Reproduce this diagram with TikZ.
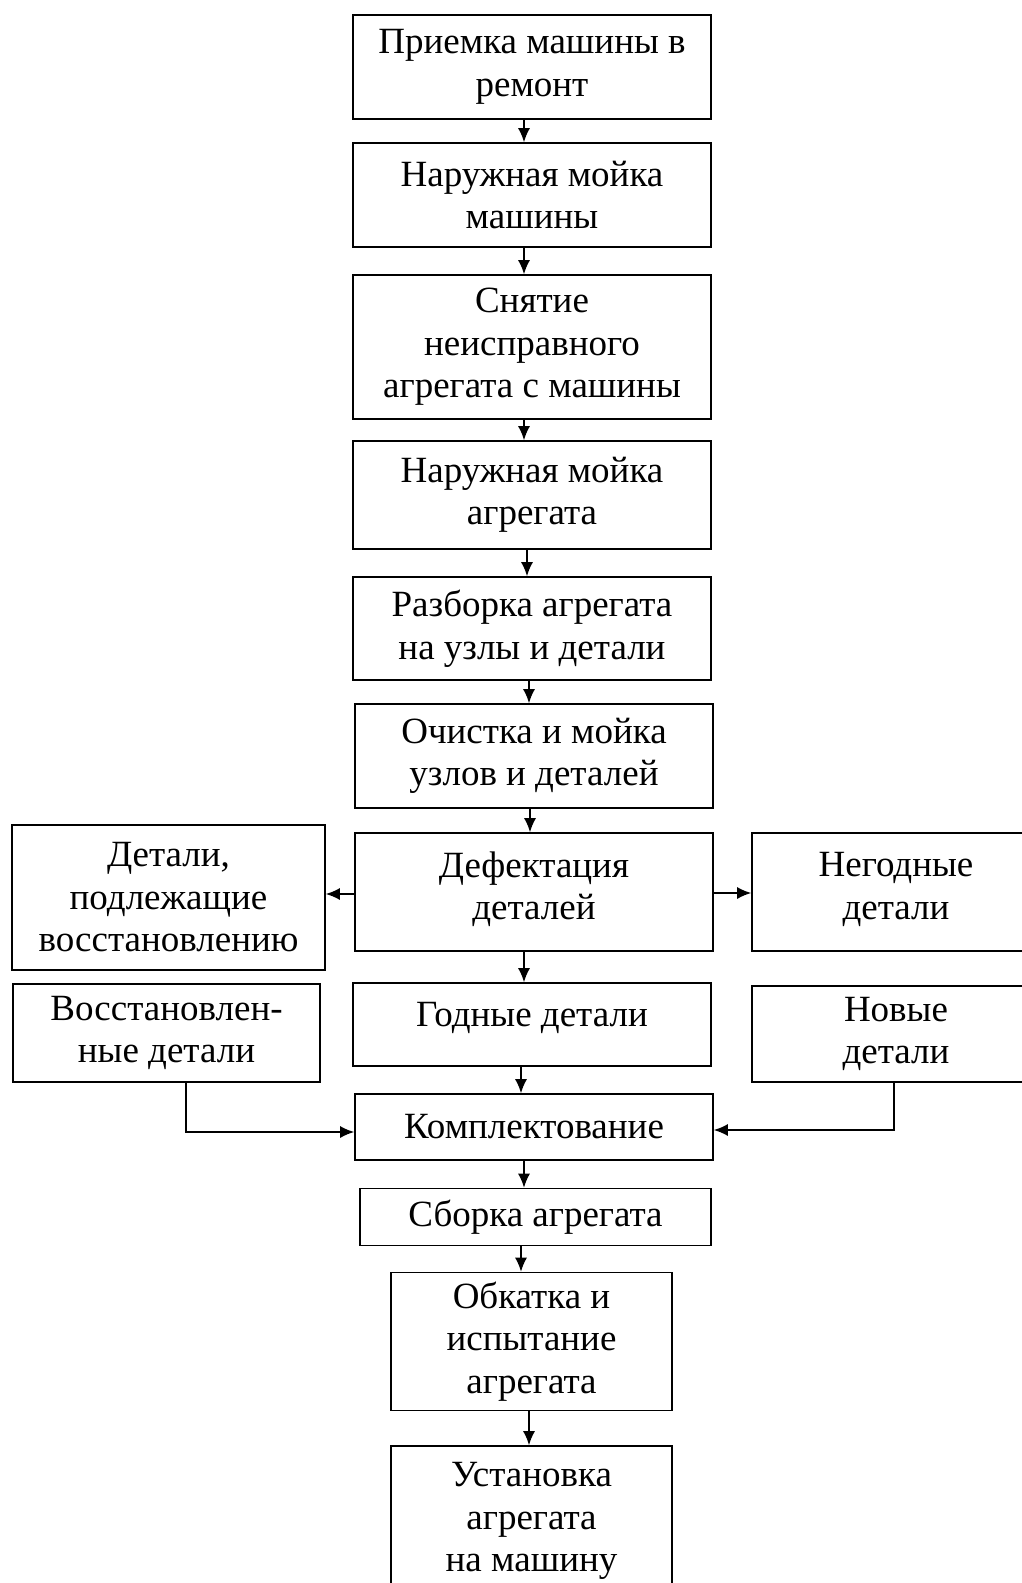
\documentclass[tikz,border=0pt]{standalone}
\usepackage{fontspec}
\setmainfont{Liberation Serif}
\usetikzlibrary{arrows.meta}
\begin{document}
\begin{tikzpicture}[x=1pt,y=-1pt,
  box/.style={draw,line width=1.6pt,inner sep=0pt,align=center,
    font=\fontsize{37}{42.5}\selectfont},
  arr/.style={line width=1.6pt,-{Latex[length=14pt,width=12pt]}}]
\useasboundingbox (0,0) rectangle (1021,1583);
% main column
\node[box,minimum width=358pt,minimum height=104pt] (b1) at (532,67) {Приемка машины в\\ремонт};
\node[box,minimum width=358pt,minimum height=104pt] (b2) at (532,195) {Наружная мойка\\машины};
\node[box,minimum width=358pt,minimum height=144pt] (b3) at (532,347) {Снятие\\неисправного\\агрегата с машины};
\node[box,minimum width=358pt,minimum height=108pt] (b4) at (532,495) {Наружная мойка\\агрегата};
\node[box,minimum width=358pt,minimum height=103pt] (b5) at (532,628.5) {Разборка агрегата\\на узлы и детали};
\node[box,minimum width=358pt,minimum height=104pt] (b6) at (534,756) {Очистка и мойка\\узлов и деталей};
\node[box,minimum width=358pt,minimum height=118pt] (b7) at (534,892) {Дефектация\\деталей\\[-30pt]\mbox{}};
\node[box,minimum width=313pt,minimum height=145pt] (l1) at (168.5,897.5) {Детали,\\подлежащие\\восстановлению};
\node[box,minimum width=288pt,minimum height=118pt] (r1) at (896,892) {Негодные\\детали\\[-30pt]\mbox{}};
\node[box,minimum width=358pt,minimum height=83pt] (b8) at (532,1024.5) {Годные детали\\[-22pt]\mbox{}};
\node[box,minimum width=307pt,minimum height=98pt] (l2) at (166.5,1033) {Восстановлен-\\ные детали};
\node[box,minimum width=288pt,minimum height=96pt] (r2) at (896,1034) {Новые\\детали};
\node[box,minimum width=358pt,minimum height=66pt] (b9) at (534,1127) {Комплектование};
\node[box,minimum width=351pt,minimum height=57pt] (b10) at (535.5,1217) {Сборка агрегата};
\node[box,minimum width=281pt,minimum height=138pt] (b11) at (531.5,1341.5) {Обкатка и\\испытание\\агрегата};
\node[box,minimum width=281pt,minimum height=150pt] (b12) at (531.5,1521) {Установка\\агрегата\\на машину};
% vertical arrows
\draw[arr] (b1.south -| 524,0) -- (b2.north -| 524,0);
\draw[arr] (b2.south -| 524,0) -- (b3.north -| 524,0);
\draw[arr] (b3.south -| 524,0) -- (b4.north -| 524,0);
\draw[arr] (b4.south -| 527,0) -- (b5.north -| 527,0);
\draw[arr] (b5.south -| 529,0) -- (b6.north -| 529,0);
\draw[arr] (b6.south -| 530,0) -- (b7.north -| 530,0);
\draw[arr] (b7.south -| 524,0) -- (b8.north -| 524,0);
\draw[arr] (b8.south -| 521,0) -- (b9.north -| 521,0);
\draw[arr] (b9.south -| 524,0) -- (b10.north -| 524,0);
\draw[arr] (b10.south -| 521,0) -- (b11.north -| 521,0);
\draw[arr] (b11.south -| 529,0) -- (b12.north -| 529,0);
% side arrows
\draw[arr] (b7.west |- 0,894) -- (l1.east |- 0,894);
\draw[arr] (b7.east |- 0,893) -- (r1.west |- 0,893);
\draw[arr] (l2.south -| 186,0) -- (186,1132) -- (b9.west |- 0,1132);
\draw[arr] (r2.south -| 894,0) -- (894,1130) -- (b9.east |- 0,1130);
\end{tikzpicture}
\end{document}
